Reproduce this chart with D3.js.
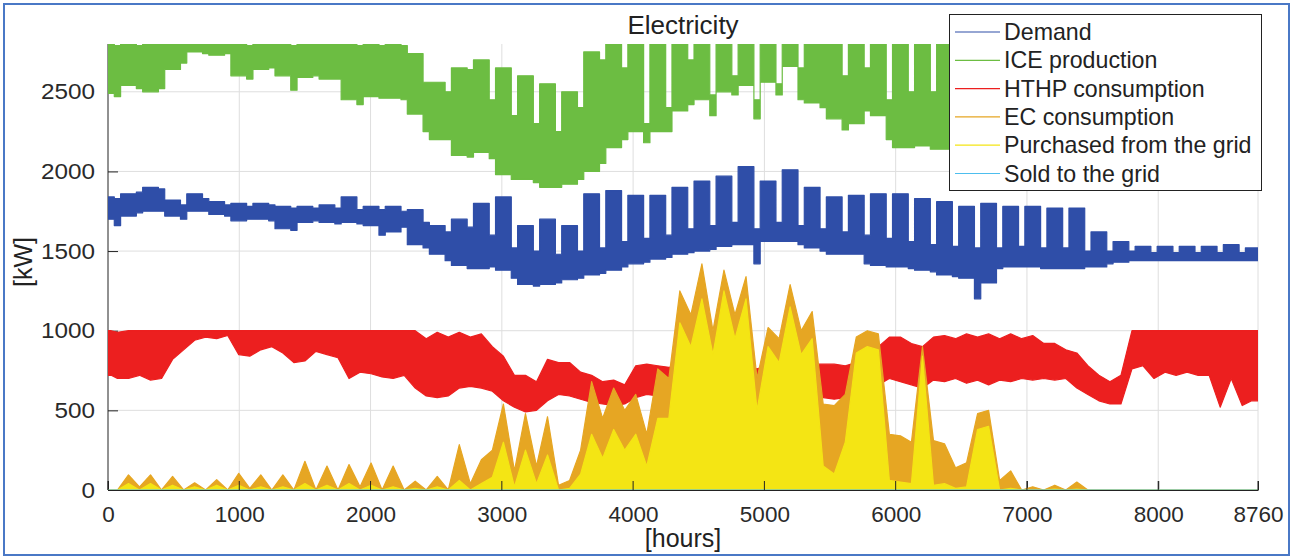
<!DOCTYPE html>
<html>
<head>
<meta charset="utf-8">
<script src="https://cdn.jsdelivr.net/npm/d3@7"></script>
<style>
  html, body { margin: 0; padding: 0; background: #fff; }
  svg { display: block; }
  text { font-family: "Liberation Sans", Arial, Helvetica, sans-serif; fill: #222; }
</style>
</head>
<body>
<svg id="chart" width="1295" height="557"></svg>
<script>
// Hourly simulation for one year (8760 h), summarised per calendar block:
// the year starts on a Thursday, so blocks alternate weekday / weekend
// (block 0 = Thu-Fri, then Sat-Sun, Mon-Fri, Sat-Sun, ...).
// For every block the arrays hold the min and max power in kW.
const blockStart = [0];
for (let k = 0; k < 52; k++) blockStart.push(48 + 168 * k, 96 + 168 * k);
const yearEnd = 8760;

const demandMax = [
  1840,1830,1860,1870,1900,1890,1820,1790,1860,1830,
  1810,1790,1800,1780,1800,1790,1780,1770,1780,1770,
  1790,1770,1840,1760,1780,1760,1780,1750,1760,1680,
  1660,1620,1700,1650,1800,1600,1840,1520,1660,1500,
  1700,1480,1660,1500,1860,1520,1880,1560,1850,1580,
  1850,1600,1900,1640,1940,1660,1970,1680,2030,1640,
  1940,1680,2010,1660,1900,1640,1840,1620,1850,1600,
  1860,1580,1860,1560,1830,1540,1810,1530,1780,1520,
  1800,1520,1780,1530,1780,1520,1770,1520,1770,1500,
  1620,1500,1560,1500,1530,1490,1530,1490,1530,1490,
  1530,1490,1540,1490,1520
];
const demandMin = [
  1700,1660,1720,1740,1750,1750,1720,1700,1750,1750,
  1730,1720,1690,1700,1700,1690,1640,1630,1680,1690,
  1680,1670,1680,1670,1660,1600,1620,1650,1540,1520,
  1480,1440,1410,1390,1390,1400,1380,1330,1290,1280,
  1290,1300,1320,1330,1350,1360,1380,1400,1420,1430,
  1450,1460,1480,1490,1500,1510,1530,1540,1540,1420,
  1560,1560,1560,1540,1520,1500,1480,1480,1480,1420,
  1410,1400,1400,1390,1380,1370,1350,1340,1330,1200,
  1300,1390,1400,1400,1400,1390,1390,1390,1390,1400,
  1400,1420,1430,1440,1440,1440,1440,1440,1440,1440,
  1440,1440,1440,1440,1440
];
const iceMax = [
  2800,2790,2800,2790,2800,2800,2800,2800,2800,2800,
  2800,2800,2800,2790,2800,2800,2800,2790,2800,2800,
  2800,2800,2800,2790,2800,2790,2800,2790,2740,2560,
  2560,2500,2650,2640,2700,2450,2650,2350,2600,2300,
  2550,2250,2500,2400,2750,2700,2800,2650,2800,2300,
  2800,2400,2800,2700,2800,2480,2800,2600,2800,2450,
  2800,2550,2800,2650,2800,2800,2800,2600,2800,2650,
  2800,2450,2800,2500,2800,2500,2800,2550,2800,2500,
  2800,2550,2800,2550,2800,2550,2800,2550,2800,2500,
  2700,2450,2500,2550,2600,2550,2600,2550,2600,2550,
  2600,2500,2600,2500,2600
];
const iceMin = [
  2490,2470,2540,2520,2500,2520,2640,2680,2750,2740,
  2730,2740,2600,2580,2640,2650,2600,2510,2590,2600,
  2580,2580,2450,2420,2470,2460,2460,2450,2360,2250,
  2200,2200,2100,2090,2120,2080,1980,1950,1950,1930,
  1900,1900,1920,1950,2000,2050,2150,2200,2250,2180,
  2250,2250,2380,2420,2450,2350,2500,2480,2540,2330,
  2560,2480,2660,2450,2430,2400,2330,2260,2300,2380,
  2350,2200,2150,2150,2160,2140,2140,2150,2150,2100,
  2150,2200,2200,2200,2250,2200,2250,2200,2250,2150,
  2150,2100,2050,2250,2300,2250,2250,2250,2250,2250,
  2250,2200,2250,2200,2250
];
const hthpMax = [
  1000, 990,1000,1000,1000,1000,1000,1000,1000,1000,
  1000,1000,1000,1000,1000,1000,1000,1000,1000,1000,
  1000,1000,1000,1000,1000,1000,1000,1000,1000, 950,
   990, 960, 990, 960, 980, 900, 840, 720, 720, 680,
   820, 800, 800, 740, 720, 680, 690, 660, 780, 790,
   780, 770, 780, 760, 780, 760, 780, 770, 790, 760,
   780, 770, 790, 770, 790, 790, 790, 780, 800, 850,
   900, 960, 960, 920, 900, 960, 970, 950, 980, 960,
   980, 950, 980, 950, 970, 920, 920, 880, 860, 780,
   720, 680, 720,1000,1000,1000,1000,1000,1000,1000,
  1000,1000,1000,1000,1000
];
const hthpMin = [
   720, 700, 700, 720, 690, 700, 820, 880, 940, 960,
   950, 970, 850, 840, 880, 900, 860, 800, 810, 870,
   850, 830, 700, 740, 730, 710, 700, 720, 640, 590,
   580, 590, 640, 650, 640, 620, 560, 520, 490, 500,
   560, 600, 590, 570, 550, 540, 530, 540, 580, 600,
   590, 600, 600, 620, 600, 620, 610, 620, 600, 620,
   610, 620, 600, 610, 590, 580, 570, 580, 620, 650,
   660, 700, 680, 660, 640, 690, 680, 700, 670, 690,
   660, 690, 680, 700, 690, 700, 690, 700, 640, 600,
   560, 540, 540, 760, 780, 700, 740, 720, 740, 720,
   720, 520, 700, 530, 560
];
const ecMax = [
     0,   0,  95,  20,  95,   0,  85,   0,  45,   0,
    65,   0, 105,  10,  95,   0,  95,   0, 180,   0,
   150,   0, 160,  20, 170,   0, 150,   0,  55,   0,
    85,   0, 285,  40, 190, 250, 540, 120, 480, 150,
   460,  30,  60, 250, 680, 450, 640, 500, 600, 350,
   760, 700,1250,1100,1420,1000,1380,1100,1340, 700,
  1020, 950,1290,1000,1120, 540, 530, 600, 960,1000,
   980, 350, 340, 300, 900, 310, 290, 140, 170, 480,
   500,  60, 120,   0,  20,   0,  30,   0,  50,   0,
     0,   0,   0,   0,   0,   0,   0,   0,   0,   0,
     0,   0,   0,   0,   0
];
const purchasedMax = [
     0,   0,  40,   0,  40,   0,  30,   0,  20,   0,
    30,   0,  30,   0,  20,   0,  20,   0,  40,   0,
    30,   0,  40,   0,  30,   0,  20,   0,  10,   0,
    20,   0,  60,   0,  40,  80, 300,  20, 250,  40,
   220,   0,  10, 100, 350, 200, 380, 250, 350, 150,
   450, 450,1050, 900,1200, 850,1250, 950,1200, 500,
   900, 800,1150, 850, 950, 150, 100, 300, 860, 900,
   880,  60,  50,  40, 840,  30,  40,  10,  20, 380,
   400,   0,  10,   0,   0,   0,   5,   0,   5,   0,
     0,   0,   0,   0,   0,   0,   0,   0,   0,   0,
     0,   0,   0,   0,   0
];
// No electricity is exported during the year.
const soldHours = [0, 8760];
const soldKW = [0, 0];

const xTicks = [0, 1000, 2000, 3000, 4000, 5000, 6000, 7000, 8000, 8760];
const yTicks = [0, 500, 1000, 1500, 2000, 2500];

// "step" bands keep the weekday/weekend blocks flat; "mid" bands join block centres.
const series = [
  { name: "Demand",                  color: "#2f4ea8", lo: demandMin, hi: demandMax,    shape: "step" },
  { name: "ICE production",          color: "#6cbd42", lo: iceMin,    hi: iceMax,       shape: "step" },
  { name: "HTHP consumption",        color: "#ec1f1f", lo: hthpMin,   hi: hthpMax,      shape: "mid" },
  { name: "EC consumption",          color: "#e6a623", lo: null,      hi: ecMax,        shape: "mid" },
  { name: "Purchased from the grid", color: "#f4e514", lo: null,      hi: purchasedMax, shape: "mid" }
];
const soldColor = "#4dbeee";

const svg = d3.select("#chart");
const x = d3.scaleLinear().domain([0, yearEnd]).range([108, 1258]);
const y = d3.scaleLinear().domain([0, 2800]).range([490, 44]);

// grid
const grid = svg.append("g").attr("stroke", "#dedede").attr("stroke-width", 1);
grid.selectAll("line.gx").data(xTicks.filter(d => d > 0)).join("line")
  .attr("x1", d => x(d)).attr("x2", d => x(d)).attr("y1", y(0)).attr("y2", y(2800));
grid.selectAll("line.gy").data(yTicks.filter(d => d > 0)).join("line")
  .attr("x1", x(0)).attr("x2", x(yearEnd)).attr("y1", d => y(d)).attr("y2", d => y(d));

// axes
const axisFont = 22.5;
const yAxis = svg.append("g").attr("transform", `translate(${x(0)},0)`)
  .call(d3.axisLeft(y).tickValues(yTicks).tickFormat(d3.format("d"))
    .tickSizeInner(-10).tickSizeOuter(0).tickPadding(11));
const xAxis = svg.append("g").attr("transform", `translate(0,${y(0)})`)
  .call(d3.axisBottom(x).tickValues(xTicks).tickFormat(d3.format("d"))
    .tickSizeInner(-9).tickSizeOuter(0).tickPadding(16));
[yAxis, xAxis].forEach(a => {
  a.selectAll("text").attr("font-size", axisFont).style("fill", "#2a2a2a");
  a.selectAll("line").attr("stroke", "#222");
  a.select(".domain").attr("stroke", "#222");
});
yAxis.selectAll("text").attr("transform", "translate(-1,0) scale(1.08,1)").attr("text-anchor", "end");
yAxis.select(".domain").attr("d", `M0,${y(0)}V${y(2800)}`);

// data
svg.append("clipPath").attr("id", "plotclip").append("rect")
  .attr("x", x(0)).attr("y", y(2800)).attr("width", x(yearEnd) - x(0)).attr("height", y(0) - y(2800));
const plot = svg.append("g").attr("clip-path", "url(#plotclip)");

const blockEnd = blockStart.slice(1).concat([yearEnd]);
function bandRows(s) {
  const lo = i => (s.lo ? s.lo[i] : 0);
  if (s.shape === "step") {
    const rows = blockStart.map((h, i) => ({ h, lo: lo(i), hi: s.hi[i] }));
    const last = rows[rows.length - 1];
    rows.push({ h: yearEnd, lo: last.lo, hi: last.hi });
    return rows;
  }
  const rows = blockStart.map((h, i) => ({ h: (h + blockEnd[i]) / 2, lo: lo(i), hi: s.hi[i] }));
  const n = rows.length - 1;
  return [{ h: 0, lo: rows[0].lo, hi: rows[0].hi }, ...rows, { h: yearEnd, lo: rows[n].lo, hi: rows[n].hi }];
}
const stepBand = d3.area().curve(d3.curveStepAfter)
  .x(d => x(d.h)).y0(d => y(d.lo)).y1(d => y(d.hi));
const midBand = d3.area().curve(d3.curveLinear)
  .x(d => x(d.h)).y0(d => y(d.lo)).y1(d => y(d.hi));

series.forEach(s => {
  plot.append("path").datum(bandRows(s))
    .attr("d", s.shape === "step" ? stepBand : midBand)
    .attr("fill", s.color)
    .attr("stroke", s.color)
    .attr("stroke-width", 1.2)
    .attr("stroke-linejoin", "round");
});
plot.append("path")
  .datum(soldHours.map((h, i) => ({ h, v: soldKW[i] })))
  .attr("d", d3.line().x(d => x(d.h)).y(d => y(d.v)))
  .attr("fill", "none").attr("stroke", soldColor).attr("stroke-width", 1.6).attr("stroke-opacity", 0.7);

// bottom ticks stay visible over the data
svg.append("g").selectAll("line").data(xTicks).join("line")
  .attr("x1", d => x(d)).attr("x2", d => x(d)).attr("y1", y(0)).attr("y2", y(0) - 9)
  .attr("stroke", "#222");

// title and axis labels
svg.append("text").attr("x", (x(0) + x(yearEnd)) / 2).attr("y", 34)
  .attr("text-anchor", "middle").attr("font-size", 26).text("Electricity");
svg.append("text").attr("transform", "translate(32,262) rotate(-90)")
  .attr("text-anchor", "middle").attr("font-size", 25).text("[kW]");
svg.append("text").attr("x", (x(0) + x(yearEnd)) / 2).attr("y", 547)
  .attr("text-anchor", "middle").attr("font-size", 25).text("[hours]");

// legend
const legend = svg.append("g");
legend.append("rect").attr("x", 949.5).attr("y", 14.5).attr("width", 312).attr("height", 176)
  .attr("fill", "#fff").attr("stroke", "#222").attr("stroke-width", 1);
const legendItems = series.map(s => ({ name: s.name, color: s.color }))
  .concat([{ name: "Sold to the grid", color: soldColor }]);
const rowH = 28.3;
const item = legend.selectAll("g.item").data(legendItems).join("g")
  .attr("transform", (d, i) => `translate(0,${32 + i * rowH})`);
item.append("line").attr("x1", 955).attr("x2", 1000).attr("y1", 0).attr("y2", 0)
  .attr("stroke", d => d.color).attr("stroke-width", 1.2);
item.append("text").attr("x", 1004).attr("y", 0).attr("dy", "0.35em")
  .attr("font-size", 23.2).text(d => d.name);

// outer frame
svg.append("rect").attr("x", 4).attr("y", 4).attr("width", 1285).attr("height", 551)
  .attr("fill", "none").attr("stroke", "#4a78c6").attr("stroke-width", 2);
</script>
</body>
</html>
